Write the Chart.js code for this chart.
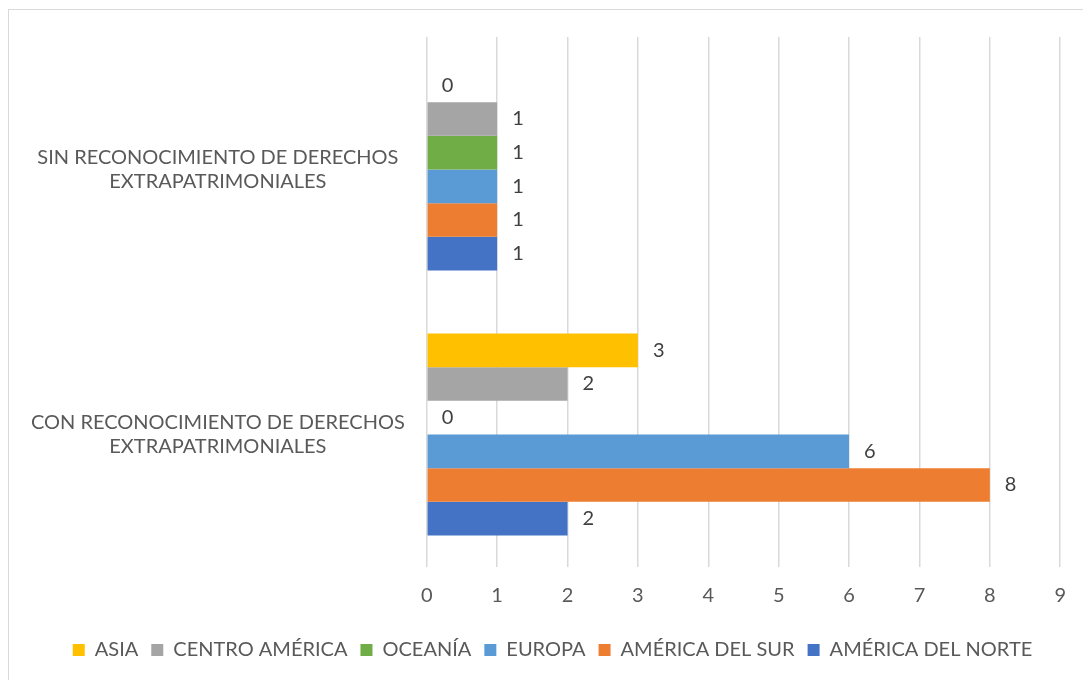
<!DOCTYPE html>
<html>
<head>
<meta charset="utf-8">
<script src="https://cdn.jsdelivr.net/npm/chart.js@4.4.1/dist/chart.umd.min.js"></script>
<style>
  html, body { margin: 0; padding: 0; background: #fff; }
  #wrap { width: 1083px; height: 680px; position: relative; }
</style>
</head>
<body>
<div id="wrap"><canvas id="chart" width="1083" height="680"></canvas></div>
<script>
// categories, top to bottom
const categories = [
  ['SIN RECONOCIMIENTO DE DERECHOS', 'EXTRAPATRIMONIALES'],
  ['CON RECONOCIMIENTO DE DERECHOS', 'EXTRAPATRIMONIALES']
];
const seriesNames = ['ASIA', 'CENTRO AMÉRICA', 'OCEANÍA', 'EUROPA', 'AMÉRICA DEL SUR', 'AMÉRICA DEL NORTE'];
const seriesColors = ['#FFC000', '#A5A5A5', '#70AD47', '#5B9BD5', '#ED7D31', '#4472C4'];
// values per series: [SIN, CON]
const asia = [0, 3];
const centroAmerica = [1, 2];
const oceania = [1, 0];
const europa = [1, 6];
const americaSur = [1, 8];
const americaNorte = [1, 2];
const xTicks = [0, 1, 2, 3, 4, 5, 6, 7, 8, 9];

const seriesValues = [asia, centroAmerica, oceania, europa, americaSur, americaNorte];
const fontFamily = 'Lato, "Liberation Sans", sans-serif';

// border of the chart area
const frame = {
  id: 'frame',
  beforeDraw(chart) {
    const c = chart.ctx;
    c.save();
    c.strokeStyle = '#D9D9D9';
    c.lineWidth = 1;
    c.strokeRect(8.5, 9.5, 1200, 800);
    c.restore();
  }
};

// nudge the legend to the right, like the original
const legendShift = {
  id: 'legendShift',
  afterLayout(chart) {
    chart.legend.left += 16;
    chart.legend.right += 16;
  }
};

// value labels at the bar ends
const valueLabels = {
  id: 'valueLabels',
  afterDatasetsDraw(chart) {
    const c = chart.ctx;
    c.save();
    c.font = '20px ' + fontFamily;
    c.fillStyle = '#404040';
    c.textAlign = 'left';
    c.textBaseline = 'middle';
    chart.data.datasets.forEach(function (ds, i) {
      const meta = chart.getDatasetMeta(i);
      meta.data.forEach(function (bar, j) {
        c.fillText(String(ds.data[j]), bar.x + 15, bar.y);
      });
    });
    c.restore();
  }
};

const ctx = document.getElementById('chart').getContext('2d');
new Chart(ctx, {
  type: 'bar',
  data: {
    labels: categories,
    datasets: seriesNames.map(function (name, i) {
      return {
        label: name,
        data: seriesValues[i],
        backgroundColor: seriesColors[i],
        borderWidth: 0
      };
    })
  },
  options: {
    indexAxis: 'y',
    responsive: false,
    animation: false,
    categoryPercentage: 0.762,
    barPercentage: 1.0,
    layout: { padding: { top: 37, left: 9, right: 19, bottom: 10 } },
    scales: {
      x: {
        min: 0,
        max: 9,
        afterBuildTicks: function (scale) {
          scale.ticks = xTicks.map(function (v) { return { value: v }; });
        },
        afterFit: function (scale) { scale.height += 2; },
        grid: { color: '#D9D9D9', lineWidth: 1.5, drawTicks: false },
        border: { display: false },
        ticks: { color: '#595959', font: { family: fontFamily, size: 20 }, padding: 17 }
      },
      y: {
        afterFit: function (scale) {
          // two-line labels sit mid-band, so they need no extra room at the ends
          scale.paddingTop = 0;
          scale.paddingBottom = 0;
        },
        grid: { display: false, drawTicks: false },
        border: { display: false },
        ticks: {
          color: '#595959',
          font: { family: fontFamily, size: 20 },
          crossAlign: 'center',
          padding: 22
        }
      }
    },
    plugins: {
      legend: {
        position: 'bottom',
        labels: {
          color: '#595959',
          font: { family: fontFamily, size: 20 },
          boxWidth: 12,
          boxHeight: 12,
          padding: 13
        }
      },
      tooltip: { enabled: false }
    }
  },
  plugins: [frame, legendShift, valueLabels]
});
</script>
</body>
</html>
